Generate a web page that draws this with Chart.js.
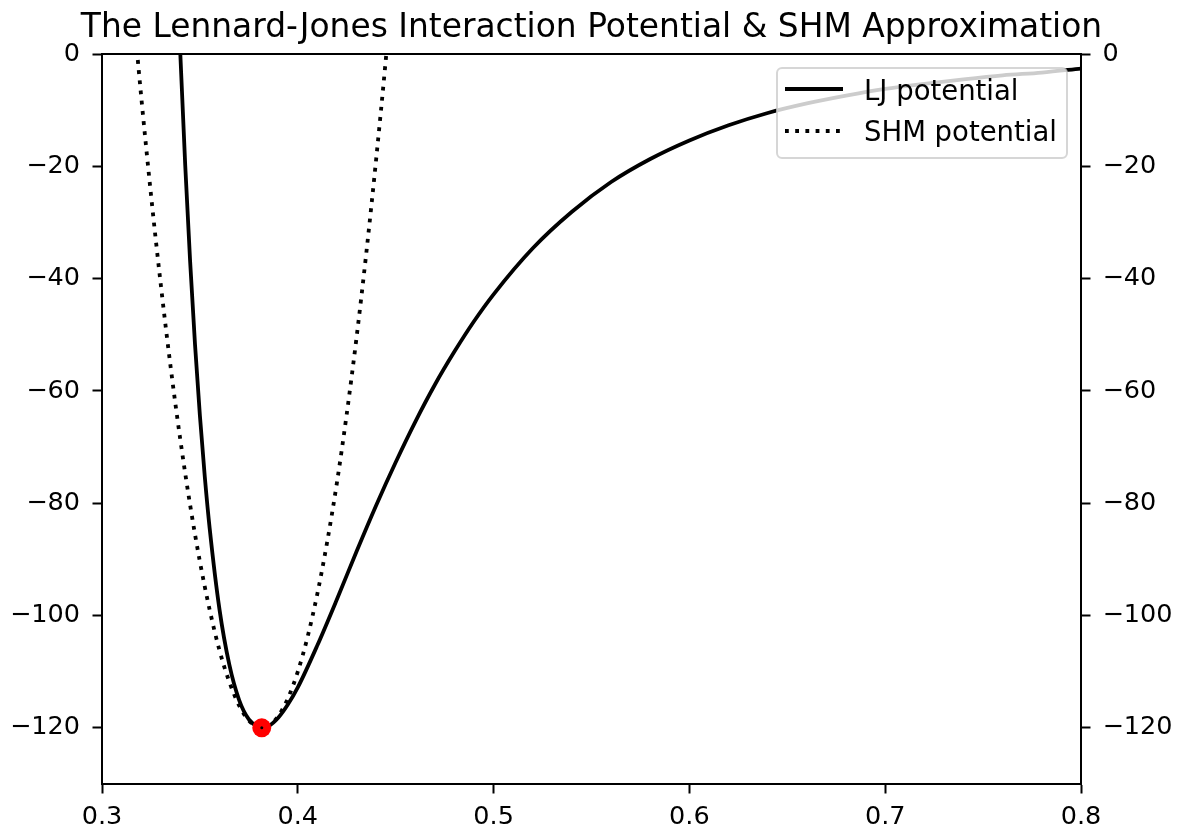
<!DOCTYPE html>
<html>
<head>
<meta charset="utf-8">
<script src="https://cdn.jsdelivr.net/npm/chart.js@4.4.1/dist/chart.umd.min.js"></script>
<style>
  html, body { margin: 0; padding: 0; background: #fff; }
  #wrap { width: 1184px; height: 833px; }
</style>
</head>
<body>
<div id="wrap"><canvas id="ljChart" width="1184" height="833"></canvas></div>
<script>
// values
const rLJ = [0.335, 0.3375, 0.34, 0.3425, 0.345, 0.3475, 0.35, 0.3525, 0.355, 0.36, 0.365, 0.37, 0.375, 0.38, 0.3816,
             0.385, 0.39, 0.395, 0.40, 0.41, 0.42, 0.43, 0.44, 0.45, 0.46, 0.47, 0.48, 0.49, 0.50,
             0.52, 0.54, 0.56, 0.58, 0.60, 0.62, 0.64, 0.66, 0.68, 0.70, 0.72, 0.74, 0.76, 0.78, 0.80];
const vLJ = [48.8, 22.7, 0, -19.8, -36.9, -51.7, -64.4, -75.3, -84.5, -98.9, -108.7, -115.0, -118.5, -119.9, -120.0,
             -119.7, -118.2, -115.8, -112.8, -105.3, -97.1, -88.6, -80.4, -72.7, -65.5, -58.9, -53.0, -47.6, -42.8,
             -34.6, -28.1, -22.8, -18.7, -15.4, -12.7, -10.5, -8.8, -7.4, -6.2, -5.3, -4.5, -3.8, -3.3, -2.6];

const rSHM = [0.315, 0.32, 0.325, 0.33, 0.335, 0.34, 0.345, 0.35, 0.355, 0.36, 0.365, 0.37, 0.375, 0.3816,
              0.385, 0.39, 0.395, 0.40, 0.405, 0.41, 0.415, 0.42, 0.425, 0.43, 0.435, 0.44, 0.445, 0.45];
const vSHM = [11.6, -7.5, -25.0, -41.0, -55.6, -68.7, -80.3, -90.4, -99.0, -106.2, -111.8, -116.0, -118.7, -120.0,
              -119.7, -117.9, -114.7, -110.0, -103.8, -96.1, -86.9, -76.3, -64.1, -50.5, -35.4, -18.8, -0.8, 18.8];

const minR = [0.3816];
const minV = [-120];

const xTicks = [0.3, 0.4, 0.5, 0.6, 0.7, 0.8];
const yTicks = [-120, -100, -80, -60, -40, -20, 0];

const titleText = 'The Lennard-Jones Interaction Potential & SHM Approximation';
const legendLabels = ['LJ potential', 'SHM potential'];

const FONT = "'DejaVu Sans', sans-serif";
const ptsLJ = rLJ.map((r, i) => ({ x: r, y: vLJ[i] }));
const ptsSHM = rSHM.map((r, i) => ({ x: r, y: vSHM[i] }));
const ptsMin = minR.map((r, i) => ({ x: r, y: minV[i] }));

function minusFmt(v) {
  return String(v).replace('-', '\u2212');
}

// frame, title and legend box drawn on top
const framePlugin = {
  id: 'frame',
  afterDraw(chart) {
    const ctx = chart.ctx;
    const a = chart.chartArea;
    ctx.save();
    ctx.strokeStyle = '#000';
    ctx.lineWidth = 2;
    ctx.strokeRect(a.left, a.top, a.right - a.left, a.bottom - a.top);

    // title
    ctx.fillStyle = '#000';
    ctx.font = '32.9px ' + FONT;
    ctx.textAlign = 'center';
    ctx.textBaseline = 'alphabetic';
    ctx.fillText(titleText, (a.left + a.right) / 2, 37);

    // legend
    const bx = 777, by = 68, bw = 290, bh = 90;
    ctx.beginPath();
    ctx.roundRect(bx, by, bw, bh, 5);
    ctx.fillStyle = 'rgba(255,255,255,0.8)';
    ctx.fill();
    ctx.strokeStyle = 'rgba(204,204,204,0.8)';
    ctx.lineWidth = 2;
    ctx.stroke();

    ctx.strokeStyle = '#000';
    ctx.lineWidth = 3.8;
    ctx.beginPath();
    ctx.moveTo(785, 89);
    ctx.lineTo(843, 89);
    ctx.stroke();
    ctx.setLineDash([3.8, 6.4]);
    ctx.beginPath();
    ctx.moveTo(785, 131);
    ctx.lineTo(843, 131);
    ctx.stroke();
    ctx.setLineDash([]);

    ctx.fillStyle = '#000';
    ctx.font = '27.5px ' + FONT;
    ctx.textAlign = 'left';
    ctx.fillText(legendLabels[0], 864, 100);
    ctx.fillText(legendLabels[1], 864, 141);
    ctx.restore();
  }
};

new Chart(document.getElementById('ljChart'), {
  type: 'scatter',
  data: {
    datasets: [
      {
        label: 'min',
        data: ptsMin,
        pointRadius: 1.5,
        pointBackgroundColor: '#000',
        pointBorderWidth: 0,
        showLine: false,
        order: 0
      },
      {
        label: 'equilibrium',
        data: ptsMin,
        pointRadius: 9.5,
        pointBackgroundColor: '#ff0000',
        pointBorderWidth: 0,
        showLine: false,
        order: 1
      },
      {
        label: legendLabels[0],
        data: ptsLJ,
        showLine: true,
        borderColor: '#000',
        borderWidth: 3.8,
        pointRadius: 0,
        cubicInterpolationMode: 'monotone',
        clip: 0,
        order: 2
      },
      {
        label: legendLabels[1],
        data: ptsSHM,
        showLine: true,
        borderColor: '#000',
        borderWidth: 3.8,
        borderDash: [3.8, 6.4],
        pointRadius: 0,
        cubicInterpolationMode: 'monotone',
        clip: 0,
        order: 3
      }
    ]
  },
  options: {
    responsive: false,
    animation: false,
    devicePixelRatio: 1,
    layout: { padding: { top: 54, left: 0, right: 0, bottom: 0 } },
    plugins: {
      legend: { display: false },
      title: { display: false },
      tooltip: { enabled: false }
    },
    scales: {
      x: {
        type: 'linear',
        position: 'bottom',
        min: 0.3,
        max: 0.8,
        afterBuildTicks: (axis) => { axis.ticks = xTicks.map(v => ({ value: v })); },
        afterFit: (axis) => { axis.height = 49; },
        ticks: {
          color: '#000',
          font: { family: FONT, size: 25.5 },
          padding: 9,
          maxRotation: 0,
          callback: (v) => Number(v).toFixed(1)
        },
        grid: {
          drawOnChartArea: false,
          drawTicks: true,
          tickLength: 9.5,
          tickColor: '#000',
          tickWidth: 2
        },
        border: { color: '#000', width: 2 }
      },
      y: {
        type: 'linear',
        position: 'left',
        min: -130,
        max: 0,
        afterBuildTicks: (axis) => { axis.ticks = yTicks.map(v => ({ value: v })); },
        afterFit: (axis) => { axis.width = 102; },
        ticks: {
          color: '#000',
          font: { family: FONT, size: 25.5 },
          padding: 12.5,
          callback: (v) => minusFmt(v)
        },
        grid: {
          drawOnChartArea: false,
          tickLength: 9.5,
          tickColor: '#000',
          tickWidth: 2
        },
        border: { color: '#000', width: 2 }
      },
      y2: {
        type: 'linear',
        position: 'right',
        min: -130,
        max: 0,
        afterBuildTicks: (axis) => { axis.ticks = yTicks.map(v => ({ value: v })); },
        afterFit: (axis) => { axis.width = 103; },
        ticks: {
          color: '#000',
          font: { family: FONT, size: 25.5 },
          padding: 12,
          callback: (v) => minusFmt(v)
        },
        grid: {
          drawOnChartArea: false,
          tickLength: 9.5,
          tickColor: '#000',
          tickWidth: 2
        },
        border: { color: '#000', width: 2 }
      }
    }
  },
  plugins: [framePlugin]
});
</script>
</body>
</html>
